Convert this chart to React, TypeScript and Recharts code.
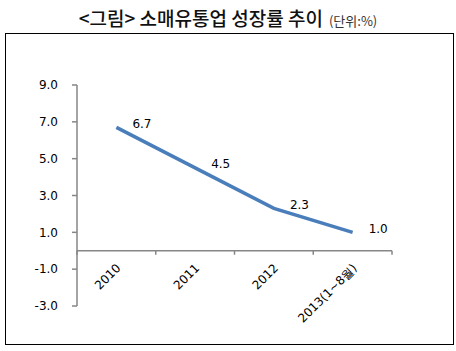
import { LineChart, Line, XAxis, YAxis, ReferenceLine, LabelList } from 'recharts';

const categories = ['2010', '2011', '2012', '2013(1~8월)'];
const growth = [6.7, 4.5, 2.3, 1.0];
const yTicks = [-3, -1, 1, 3, 5, 7, 9];

const data = categories.map((name, i) => ({ name, value: growth[i] }));

const W = 456;
const H = 351;
const M = { top: 85, right: 64, bottom: 15, left: 0 };
const Y_AXIS_W = 77;
const X_AXIS_H = 30;
const plotH = H - M.top - M.bottom - X_AXIS_H;
const plotW = W - M.left - M.right - Y_AXIS_W;
const zeroY = M.top + (9 / 12) * plotH;
const band = plotW / categories.length;

const AXIS = '#868686';
const BLUE = '#4A7EBB';
const FONT = '"DejaVu Sans", Verdana, sans-serif';

const CategoryTick = ({ x, payload, index }: any) => {
    const last = index === categories.length - 1;
    const tx = x + 5;
    const ty = zeroY + 18;
    return (
        <g>
            <line x1={x - band / 2} y1={zeroY} x2={x - band / 2} y2={zeroY + 4} stroke={AXIS} strokeWidth={1.5} />
            {last && <line x1={x + band / 2} y1={zeroY} x2={x + band / 2} y2={zeroY + 4} stroke={AXIS} strokeWidth={1.5} />}
            <text
                x={tx}
                y={ty}
                textAnchor="end"
                fontSize={12}
                fontFamily={FONT}
                fill="#000"
                transform={`rotate(-45 ${tx} ${ty})`}
            >
                {payload.value}
            </text>
        </g>
    );
};

const ValueLabel = ({ x, y, value }: any) => (
    <text x={x + 16} y={y - 3} fontSize={12} fontFamily={FONT} fill="#000" dominantBaseline="middle">
        {Number(value).toFixed(1)}
    </text>
);

export default function App() {
    return (
        <div style={{ position: 'absolute', left: 0, top: 0, width: W, height: H, background: '#fff' }}>
            <div
                style={{
                    position: 'absolute',
                    left: 0,
                    top: 4,
                    width: W,
                    textAlign: 'center',
                    fontFamily: '"Noto Sans CJK KR", sans-serif',
                    whiteSpace: 'nowrap',
                    color: '#111',
                }}
            >
                <span style={{ fontSize: 19, fontWeight: 500 }}>&lt;그림&gt; 소매유통업 성장률 추이</span>
                <span style={{ fontSize: 13, marginLeft: 6, color: '#333' }}>(단위:%)</span>
            </div>
            <div
                style={{
                    position: 'absolute',
                    left: 5,
                    top: 33,
                    width: 447,
                    height: 310,
                    border: '1px solid #000',
                }}
            />
            <div style={{ position: 'absolute', left: 0, top: 0 }}>
                <LineChart width={W} height={H} data={data} margin={M}>
                    <YAxis
                        width={Y_AXIS_W}
                        domain={[-3, 9]}
                        ticks={yTicks}
                        interval={0}
                        tickFormatter={(v: number) => v.toFixed(1)}
                        axisLine={{ stroke: AXIS, strokeWidth: 1.5 }}
                        tickLine={{ stroke: AXIS, strokeWidth: 1.5 }}
                        tickSize={5}
                        tickMargin={14}
                        tick={{ fontSize: 12, fontFamily: FONT, fill: '#000' }}
                    />
                    <XAxis
                        dataKey="name"
                        height={X_AXIS_H}
                        axisLine={false}
                        tickLine={false}
                        interval={0}
                        padding={{ left: band / 2, right: band / 2 }}
                        tick={<CategoryTick />}
                    />
                    <ReferenceLine y={0} stroke={AXIS} strokeWidth={1.5} />
                    <Line
                        type="linear"
                        dataKey="value"
                        stroke={BLUE}
                        strokeWidth={3.5}
                        dot={false}
                        isAnimationActive={false}
                    >
                        <LabelList dataKey="value" content={<ValueLabel />} />
                    </Line>
                </LineChart>
            </div>
        </div>
    );
}
